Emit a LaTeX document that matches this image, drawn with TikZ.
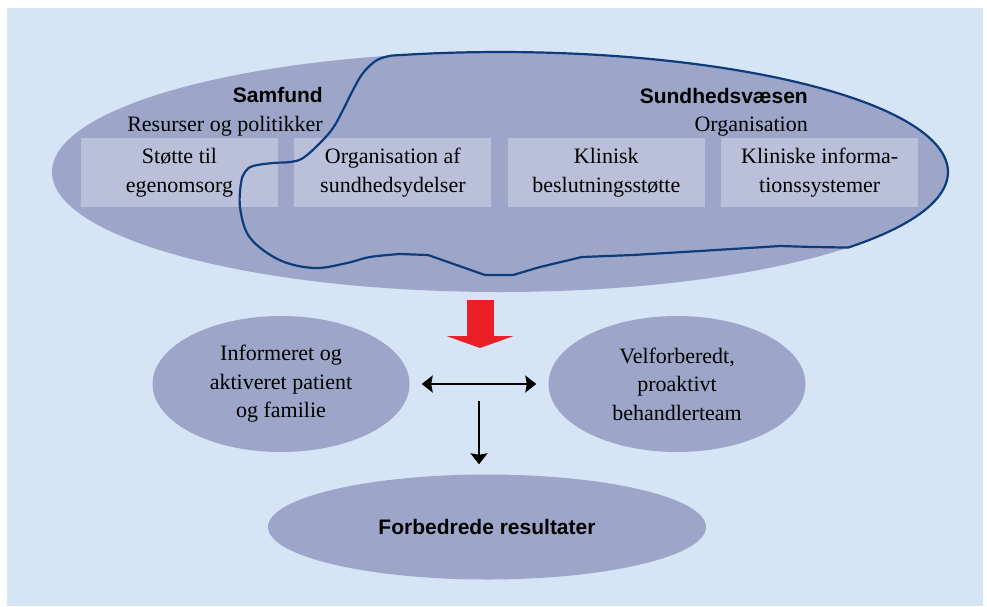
\documentclass[tikz,border=0pt]{standalone}
\usepackage{fontspec}
\setmainfont{Liberation Serif}
\newfontfamily\headfont{Liberation Sans}
\usetikzlibrary{shapes.geometric}
\usetikzlibrary{arrows.meta}
\usetikzlibrary{positioning}

\definecolor{bgblue}{HTML}{D5E5F5}
\definecolor{ovalblue}{HTML}{9DA6C8}
\definecolor{fieldblue}{HTML}{BBC0DA}
\definecolor{navy}{HTML}{0D3B7C}
\definecolor{arrowred}{HTML}{EB2027}

\begin{document}
\begin{tikzpicture}[x=1pt,y=-1pt,>={Stealth[length=11pt,width=17pt,inset=1.5pt]}]

\tikzset{oval/.style={ellipse,fill=ovalblue,inner sep=0pt,align=center,
  font=\fontsize{22}{28.5}\selectfont}}

\tikzset{field/.style={rectangle,fill=fieldblue,minimum width=197pt,
  minimum height=69pt,inner sep=0pt,align=center,font=\fontsize{22}{29.5}\selectfont}}

\tikzset{head/.style={inner sep=0pt,font=\headfont\bfseries\fontsize{21}{25}\selectfont}}
\tikzset{sub/.style={inner sep=0pt,font=\fontsize{22}{26}\selectfont}}

%background
\useasboundingbox (0,0) rectangle (987,606);
\fill[bgblue] (7,8) rectangle (983,606);

%big ellipse
\node[oval,minimum width=896pt,minimum height=240pt] (top) at (500,172) {};

%boxes
\node[field] (selfcare) at (179.5,172.5) {Støtte til\\egenomsorg};
\node[field,right=16pt of selfcare] (delivery) {Organisation af\\sundhedsydelser};
\node[field,right=16pt of delivery] (decision) {Klinisk\\beslutningsstøtte};
\node[field,right=16pt of decision] (infosys) {Kliniske informa-\\tionssystemer};

%health system outline
\draw[navy,line width=2.2pt,line join=round] (391.6,55.6)
  arc[start angle=-104,end angle=39,x radius=448,y radius=120]
  -- (813,247) -- (780,246) -- (700,251) -- (633,255) -- (582,257)
  -- (540,267) -- (513,275) -- (485,275) -- (428,255)
  -- plot[smooth,tension=0.6] coordinates {(400,254) (370,257) (347,263)
  (317,268) (287,263) (263,250) (247,233) (240,207) (241,183) (245,172)
  (253,166) (273,163) (290,162) (303,158) (320,143) (333,128) (343,110)
  (353,90) (363,73) (377,60) (391.6,55.6)};

%headings
\node[head,anchor=base east] (society) at (323,102) {Samfund};
\node[sub,anchor=base east] (resources) at (323,131) {Resurser og politikker};
\node[head,anchor=base east] (health) at (808,103) {Sundhedsvæsen};
\node[sub,anchor=base east] (organisation) at (808,131) {Organisation};

%lower ellipses
\node[oval,minimum width=257pt,minimum height=136pt] (patient) at (281,384)
  {Informeret og\\aktiveret patient\\og familie};
\node[oval,minimum width=257pt,minimum height=136pt] (team) at (677,384)
  {Velforberedt,\\proaktivt\\behandlerteam};
\node[oval,minimum width=438pt,minimum height=105pt,
  font=\headfont\bfseries\fontsize{21}{25}\selectfont] (result) at (487,527)
  {Forbedrede resultater};

\coordinate (hub) at (480,348);
\coordinate (split) at (479,401);

%red arrow
\draw[arrowred,line width=27pt,-{Triangle[length=12pt,width=67pt,line width=0pt]},
  shorten <=8pt] (top.south -| hub) -- (hub);

%arrows
\draw[<->,line width=2pt,shorten <=12pt,shorten >=12pt] (patient) -- (team);
\draw[->,line width=2pt,shorten >=10pt] (split) -- (split |- result.north);

\end{tikzpicture}
\end{document}
